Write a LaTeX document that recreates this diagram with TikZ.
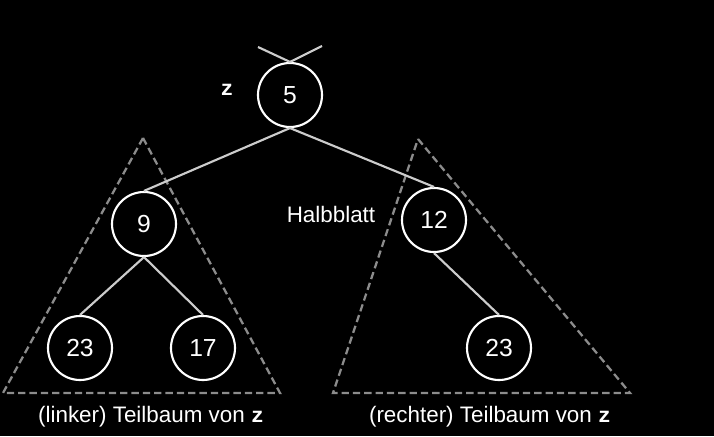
\documentclass[tikz,border=0pt]{standalone}
\usepackage{fontspec}
\setmainfont{Liberation Sans}
\setmonofont{Liberation Mono}
\begin{document}
\begin{tikzpicture}[x=0.75pt,y=-0.75pt,
  knot/.style={circle,draw=white,line width=1.6pt,minimum size=48pt,inner sep=0pt,text=white,font=\fontsize{18.5}{22}\selectfont},
  edge/.style={draw=black!20,line width=1.6pt},
  subtree/.style={draw=black!45,line width=1.7pt,dash pattern=on 5.5pt off 3pt},
  lbl/.style={text=white,font=\fontsize{16.8}{20}\selectfont},
  zsym/.style={text=white,font=\fontsize{16}{18}\ttfamily\bfseries}]
\fill[black] (0,0) rectangle (714,436);
\useasboundingbox (0,0) rectangle (714,436);
% subtree triangles
\draw[subtree] (143,138) -- (280,393) -- (3,393) -- cycle;
\draw[subtree] (418,139) -- (630,393) -- (333,393) -- cycle;
% nodes
\node[knot] (n5) at (290,95) {5};
\node[knot] (n9) at (144,224) {9};
\node[knot] (n23a) at (80,348) {23};
\node[knot] (n17) at (203,348) {17};
\node[knot] (n12) at (434,220) {12};
\node[knot] (n23b) at (499,348) {23};
\coordinate (pl) at (258,47);
\coordinate (pr) at (322,46);
% edges
\draw[edge] (n5.north) -- (pl);
\draw[edge] (n5.north) -- (pr);
\draw[edge] (n5.south) -- (n9.north);
\draw[edge] (n5.south) -- (n12.north);
\draw[edge] (n9.south) -- (n23a.north);
\draw[edge] (n9.south) -- (n17.north);
\draw[edge] (n12.south) -- (n23b.north);
% labels
\node[zsym] (zl) at (227,90) {z};
\node[lbl] (hb) at (331,214) {Halbblatt};
\node[lbl] (ll) at (151,417) {(linker) Teilbaum von {\fontsize{16}{18}\ttfamily\bfseries z}};
\node[lbl] (rl) at (490,417) {(rechter) Teilbaum von {\fontsize{16}{18}\ttfamily\bfseries z}};
\end{tikzpicture}
\end{document}
